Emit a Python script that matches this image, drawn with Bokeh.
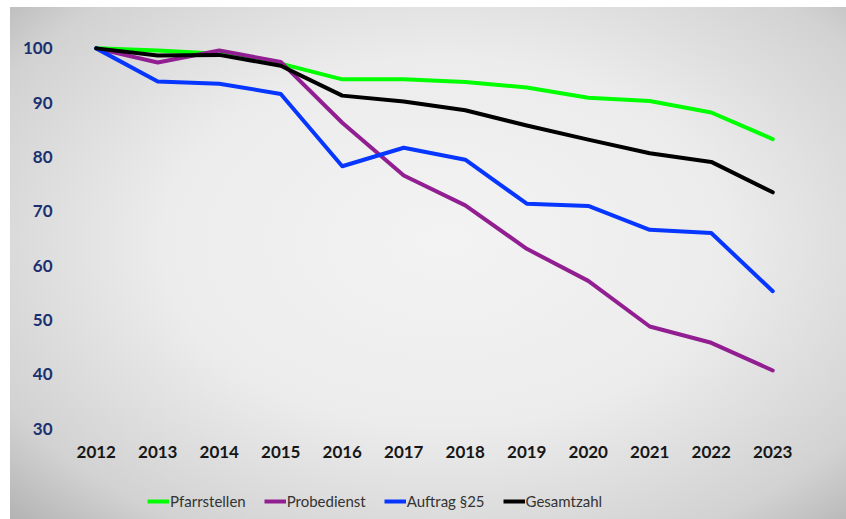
from bokeh.plotting import figure
from bokeh.layouts import column
from bokeh.models import Range1d, FixedTicker, Legend, LegendItem
from bokeh.embed import file_html
from bokeh.resources import INLINE

years = [2012, 2013, 2014, 2015, 2016, 2017, 2018, 2019, 2020, 2021, 2022, 2023]
pfarrstellen = [100, 99.6, 99.0, 97.2, 94.3, 94.3, 93.8, 92.8, 90.9, 90.3, 88.2, 83.3]
probedienst = [100, 97.4, 99.6, 97.5, 86.3, 76.6, 71.1, 63.1, 57.2, 48.8, 45.8, 40.7]
auftrag25 = [100, 93.9, 93.5, 91.6, 78.3, 81.7, 79.5, 71.4, 71.0, 66.6, 66.0, 55.3]
gesamtzahl = [100, 98.7, 98.8, 96.8, 91.3, 90.2, 88.6, 85.8, 83.2, 80.7, 79.1, 73.5]
y_ticks = [30, 40, 50, 60, 70, 80, 90, 100]

series = [
    ("Pfarrstellen", pfarrstellen, "#00ff00"),
    ("Probedienst", probedienst, "#921f91"),
    ("Auftrag §25", auftrag25, "#0636ff"),
    ("Gesamtzahl", gesamtzahl, "#000000"),
]

FONT = "Lato"

# main chart
p = figure(width=846, height=470, output_backend="svg", toolbar_location=None,
           x_range=Range1d(2011.5, 2023.5), y_range=Range1d(28, 102),
           min_border_left=65, min_border_right=43, min_border_top=37,
           min_border_bottom=31)
p.background_fill_alpha = 0
p.border_fill_alpha = 0
p.outline_line_color = None
p.grid.visible = False

for name, vals, col in series:
    p.line(years, vals, line_color=col, line_width=4, line_join="round", line_cap="round")

for ax in (p.xaxis[0], p.yaxis[0]):
    ax.axis_line_color = None
    ax.major_tick_line_color = None
    ax.minor_tick_line_color = None
    ax.major_label_text_font = FONT
    ax.major_label_text_font_style = "bold"

p.xaxis.ticker = FixedTicker(ticks=years)
p.xaxis.major_label_text_color = "#161616"
p.xaxis.major_label_text_font_size = "17px"
p.xaxis.major_label_standoff = 0
p.yaxis.ticker = FixedTicker(ticks=y_ticks)
p.yaxis.major_label_text_color = "#1a3070"
p.yaxis.major_label_text_font_size = "17px"
p.yaxis.major_label_standoff = 7

# legend strip (same series, plotted out of view so only the legend shows)
lg = figure(width=846, height=49, output_backend="svg", toolbar_location=None,
            x_range=Range1d(0, 1), y_range=Range1d(0, 1),
            x_axis_location=None, y_axis_location=None,
            min_border_left=0, min_border_right=0, min_border_top=0, min_border_bottom=0)
lg.background_fill_alpha = 0
lg.border_fill_alpha = 0
lg.outline_line_color = None
lg.grid.visible = False

items = []
for name, vals, col in series:
    r = lg.line(years, vals, line_color=col, line_width=4)
    items.append(LegendItem(label=name, renderers=[r]))

legend = Legend(items=items, orientation="horizontal", location=(82, 9),
                background_fill_alpha=0, border_line_color=None,
                label_text_font=FONT, label_text_font_size="15px",
                label_text_color="#333333", glyph_width=22, glyph_height=14,
                label_standoff=1, spacing=18, padding=4, margin=0)
lg.add_layout(legend, "center")

layout = column(p, lg, spacing=0, width=846, height=519,
                styles={"background": "#ffffff radial-gradient(ellipse 75% 80% at 52% 46%, #f3f3f3 0%, #ececec 45%, #d2d2d2 80%, #adadad 100%) no-repeat 10px 7px / 836px 512px"})

open("out.html", "w").write(file_html(layout, INLINE))
